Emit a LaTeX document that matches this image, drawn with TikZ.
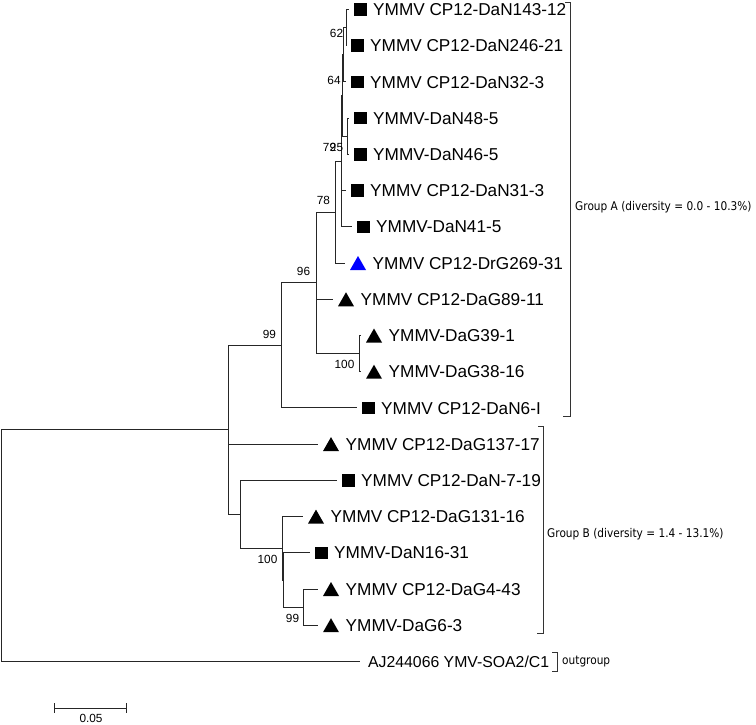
\documentclass[tikz,border=0pt]{standalone}
\usepackage{fontspec}
\setmainfont{Liberation Sans}
\newfontfamily\grpfont[FakeStretch=0.88]{DejaVu Sans}
\definecolor{tblue}{RGB}{0,0,255}
\begin{document}
\begin{tikzpicture}[x=1pt,y=-1pt,
  br/.style={line width=1pt, black!85},
  brk/.style={line width=0.9pt, black!80},
  lab/.style={anchor=west, inner sep=0pt, text height=12.3pt, text depth=0pt, font=\fontsize{17.2}{20}\selectfont},
  olab/.style={anchor=west, inner sep=0pt, text height=11.3pt, text depth=0pt, font=\fontsize{15.8}{19}\selectfont},
  bs/.style={anchor=center, inner sep=0pt, text height=8.5pt, text depth=0pt, font=\fontsize{11.8}{14}\selectfont},
  grp/.style={anchor=west, inner sep=0pt, font=\grpfont\fontsize{12}{14}\selectfont},
  sqm/.pic={\fill (0,-6.25) rectangle (12.5,6.25);},
  trim/.pic={\fill (0,7) -- (16,7) -- (8,-7) -- cycle;},
  btrim/.pic={\fill[tblue] (0,7) -- (16,7) -- (8,-7) -- cycle;}
]
\useasboundingbox (0,0) rectangle (756,725);

% internal nodes
\coordinate (R) at (1.5,545.7);
\coordinate (I) at (228,429.9);
\coordinate (N99) at (281,345.4);
\coordinate (N96) at (316,282.9);
\coordinate (N78) at (335,212.1);
\coordinate (N79) at (341,161.2);
\coordinate (X) at (342,95.5);
\coordinate (P) at (343,54.75);
\coordinate (Q) at (346,27.6);
\coordinate (Z) at (347,136.3);
\coordinate (N100a) at (359,353.6);
\coordinate (NB) at (240,514.3);
\coordinate (NC) at (282,548.3);
\coordinate (ND) at (283.5,580);
\coordinate (NE) at (303,607.1);

% leaf tips
\coordinate (L1) at (349,9.5);
\coordinate (L2) at (346,45.7);
\coordinate (L3) at (346,81.9);
\coordinate (L4) at (349,118.2);
\coordinate (L5) at (349,154.4);
\coordinate (L6) at (346,190.6);
\coordinate (L7) at (352,226.8);
\coordinate (L8) at (345,263.0);
\coordinate (L9) at (333,299.3);
\coordinate (L10) at (361,335.5);
\coordinate (L11) at (361,371.7);
\coordinate (L12) at (357,407.9);
\coordinate (L13) at (318,444.1);
\coordinate (L14) at (337,480.4);
\coordinate (L15) at (303,516.6);
\coordinate (L16) at (310,552.8);
\coordinate (L17) at (318,589.0);
\coordinate (L18) at (318,625.2);
\coordinate (L19) at (360,661.5);

% branches
\draw[br] (R) |- (I);  \draw[br] (R) |- (L19);
\draw[br] (I) |- (N99); \draw[br] (I) |- (L13); \draw[br] (I) |- (NB);
\draw[br] (N99) |- (N96); \draw[br] (N99) |- (L12);
\draw[br] (N96) |- (N78); \draw[br] (N96) |- (L9); \draw[br] (N96) |- (N100a);
\draw[br] (N100a) |- (L10); \draw[br] (N100a) |- (L11);
\draw[br] (N78) |- (N79); \draw[br] (N78) |- (L8);
\draw[br] (N79) |- (X); \draw[br] (N79) |- (L6); \draw[br] (N79) |- (L7);
\draw[br] (X) |- (P); \draw[br] (X) |- (Z);
\draw[br] (P) |- (Q); \draw[br] (P) |- (L3);
\draw[br] (Q) |- (L1); \draw[br] (Q) |- (L2);
\draw[br] (Z) |- (L4); \draw[br] (Z) |- (L5);
\draw[br] (NB) |- (L14); \draw[br] (NB) |- (NC);
\draw[br] (NC) |- (L15); \draw[br] (NC) |- (ND);
\draw[br] (ND) |- (L16); \draw[br] (ND) |- (NE);
\draw[br] (NE) |- (L17); \draw[br] (NE) |- (L18);

% leaf markers and labels
\pic at ([xshift=5pt]L1) {sqm};  \node[lab] (t1) at ([xshift=24pt]L1) {YMMV CP12-DaN143-12};
\pic at ([xshift=5pt]L2) {sqm};  \node[lab] (t2) at ([xshift=24pt]L2) {YMMV CP12-DaN246-21};
\pic at ([xshift=5pt]L3) {sqm};  \node[lab] (t3) at ([xshift=24pt]L3) {YMMV CP12-DaN32-3};
\pic at ([xshift=5pt]L4) {sqm};  \node[lab] (t4) at ([xshift=24pt]L4) {YMMV-DaN48-5};
\pic at ([xshift=5pt]L5) {sqm};  \node[lab] (t5) at ([xshift=24pt]L5) {YMMV-DaN46-5};
\pic at ([xshift=5pt]L6) {sqm};  \node[lab] (t6) at ([xshift=24pt]L6) {YMMV CP12-DaN31-3};
\pic at ([xshift=5pt]L7) {sqm};  \node[lab] (t7) at ([xshift=24pt]L7) {YMMV-DaN41-5};
\pic at ([xshift=5pt]L8) {btrim}; \node[lab] (t8) at ([xshift=27.5pt]L8) {YMMV CP12-DrG269-31};
\pic at ([xshift=5pt]L9) {trim}; \node[lab] (t9) at ([xshift=27.5pt]L9) {YMMV CP12-DaG89-11};
\pic at ([xshift=5pt]L10) {trim}; \node[lab] (t10) at ([xshift=27.5pt]L10) {YMMV-DaG39-1};
\pic at ([xshift=5pt]L11) {trim}; \node[lab] (t11) at ([xshift=27.5pt]L11) {YMMV-DaG38-16};
\pic at ([xshift=5pt]L12) {sqm};  \node[lab] (t12) at ([xshift=24pt]L12) {YMMV CP12-DaN6-I};
\pic at ([xshift=5pt]L13) {trim}; \node[lab] (t13) at ([xshift=27.5pt]L13) {YMMV CP12-DaG137-17};
\pic at ([xshift=5pt]L14) {sqm};  \node[lab] (t14) at ([xshift=24pt]L14) {YMMV CP12-DaN-7-19};
\pic at ([xshift=5pt]L15) {trim}; \node[lab] (t15) at ([xshift=27.5pt]L15) {YMMV CP12-DaG131-16};
\pic at ([xshift=5pt]L16) {sqm};  \node[lab] (t16) at ([xshift=24pt]L16) {YMMV-DaN16-31};
\pic at ([xshift=5pt]L17) {trim}; \node[lab] (t17) at ([xshift=27.5pt]L17) {YMMV CP12-DaG4-43};
\pic at ([xshift=5pt]L18) {trim}; \node[lab] (t18) at ([xshift=27.5pt]L18) {YMMV-DaG6-3};
\node[olab] (t19) at ([xshift=8pt]L19) {AJ244066 YMV-SOA2/C1};

% bootstrap values
\node[bs] (b62) at (336.5,33) {62};
\node[bs] (b64) at (334,80) {64};
\node[bs] (b79) at (329.5,147) {79};
\node[bs] (b25) at (336.5,147) {25};
\node[bs] (b78) at (323.5,200) {78};
\node[bs] (b96) at (303.5,271) {96};
\node[bs] (b99a) at (269.5,334) {99};
\node[bs] (b100a) at (344.5,364) {100};
\node[bs] (b100b) at (267.5,559) {100};
\node[bs] (b99b) at (292.5,618) {99};

% group brackets
\coordinate (bA1) at (565,2);   \coordinate (bA2) at (570,2);
\coordinate (bA3) at (570,416); \coordinate (bA4) at (563,416);
\draw[brk] (bA1) -- (bA2) -- (bA3) -- (bA4);
\node[grp] (gA) at (575,207) {Group A (diversity = 0.0 - 10.3\%)};

\coordinate (bB1) at (538,426); \coordinate (bB2) at (543,426);
\coordinate (bB3) at (543,633); \coordinate (bB4) at (537,633);
\draw[brk] (bB1) -- (bB2) -- (bB3) -- (bB4);
\node[grp] (gB) at (547,534) {Group B (diversity = 1.4 - 13.1\%)};

\coordinate (bO1) at (552,652); \coordinate (bO2) at (557,652);
\coordinate (bO3) at (557,671); \coordinate (bO4) at (552,671);
\draw[brk] (bO1) -- (bO2) -- (bO3) -- (bO4);
\node[grp] (gO) at (562,662) {outgroup};

% scale bar
\coordinate (s1) at (54,708); \coordinate (s2) at (126,708);
\draw[br] (s1) -- (s2);
\draw[br] (s1) ++(0,-5) -- ++(0,10);
\draw[br] (s2) ++(0,-5) -- ++(0,10);
\node[bs] (sc) at (91,718) {0.05};
\end{tikzpicture}
\end{document}
